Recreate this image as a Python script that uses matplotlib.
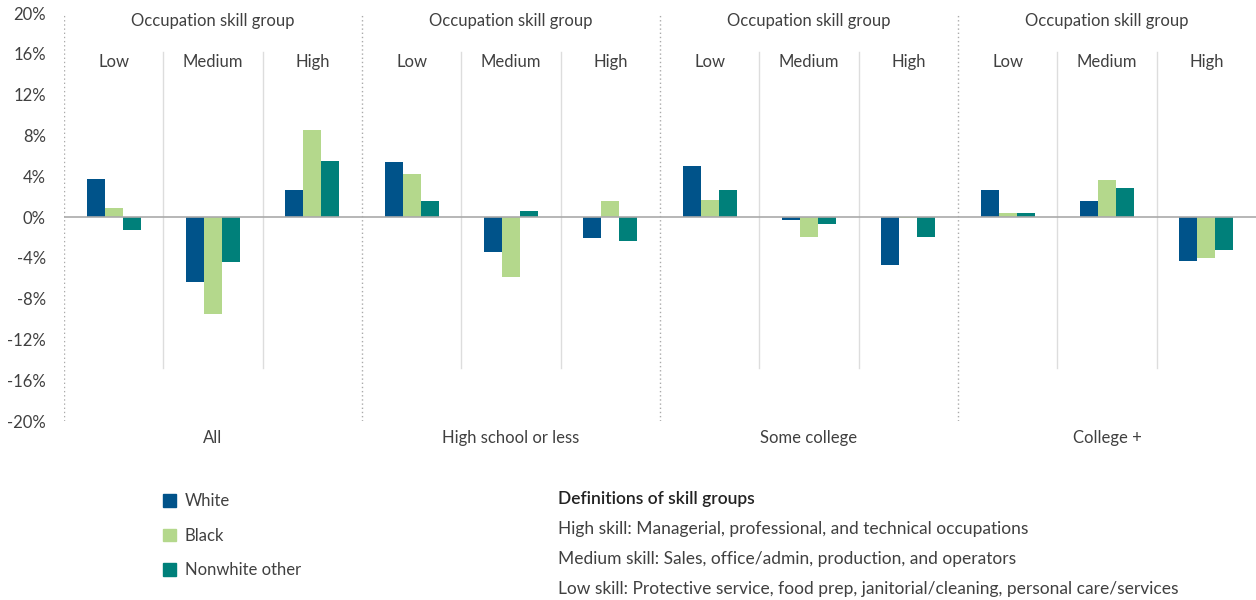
import numpy as np
import matplotlib
matplotlib.use('Agg')
import matplotlib.pyplot as plt
from matplotlib.patches import Patch

plt.rcParams['font.family'] = ['Lato', 'DejaVu Sans']

# data, percent change
groups = ['All', 'High school or less', 'Some college', 'College +']
skills = ['Low', 'Medium', 'High']
series = ['White', 'Black', 'Nonwhite other']
white = [3.7, -6.4, 2.6, 5.4, -3.4, -2.1, 5.0, -0.3, -4.7, 2.6, 1.6, -4.3]
black = [0.9, -9.5, 8.5, 4.2, -5.9, 1.6, 1.7, -2.0, -0.1, 0.4, 3.6, -4.0]
nonwhite = [-1.3, -4.4, 5.5, 1.6, 0.6, -2.4, 2.6, -0.7, -2.0, 0.4, 2.8, -3.2]
colors = ['#00538a', '#b4d88c', '#00807a']

txt = '#404040'
fs = 12
fig = plt.figure(figsize=(12.56, 6), dpi=100)
ax = fig.add_axes([64/1256, 1 - 421/600, 1 - 64/1256, 408/600])

n = len(white)
x = np.arange(n) + 0.5
w = 0.181
for k, (vals, c) in enumerate(zip([white, black, nonwhite], colors)):
    ax.bar(x + (k - 1) * w, vals, width=w, color=c, zorder=3, label=series[k])

ax.set_xlim(0, n)
ax.set_ylim(-20, 20)
ax.set_yticks(np.arange(-20, 21, 4))
ax.set_yticklabels([f'{v}%' for v in range(-20, 21, 4)], fontsize=fs, color=txt)
ax.tick_params(axis='y', length=0, pad=13)
ax.set_xticks([])
for s in ax.spines.values():
    s.set_visible(False)

ax.axhline(0, color='#aaaaaa', lw=1.2, zorder=4)

# dividers
for g in range(len(groups)):
    ax.axvline(g * 3, color='#aaaaaa', lw=1, ls=(0, (1, 2)), ymin=0, ymax=1.0, zorder=1)
    for s in (1, 2):
        ax.axvline(g * 3 + s, color='#dddddd', lw=1, ymin=0.13, ymax=0.904, zorder=1)
    ax.text(g * 3 + 1.5, 19.2, 'Occupation skill group', ha='center', va='center',
            fontsize=fs, color=txt)
    for s, lab in enumerate(skills):
        ax.text(g * 3 + s + 0.5, 15.2, lab, ha='center', va='center', fontsize=fs, color=txt)
    ax.text(g * 3 + 1.5, -21.7, groups[g], ha='center', va='center', fontsize=fs,
            color=txt, clip_on=False)

handles = [Patch(color=c) for c in colors]
fig.legend(handles, series, loc='upper left', bbox_to_anchor=(148/1256, 1 - 478/600),
           frameon=False, fontsize=fs, handlelength=0.8, handleheight=0.8,
           handletextpad=0.5, labelspacing=1.12, labelcolor=txt)

fig.text(558/1256, 1 - 499/600, 'Definitions of skill groups', fontsize=12.5,
         fontweight='semibold', color='#222222', va='center')
defs = ['High skill: Managerial, professional, and technical occupations',
        'Medium skill: Sales, office/admin, production, and operators',
        'Low skill: Protective service, food prep, janitorial/cleaning, personal care/services']
for i, d in enumerate(defs):
    fig.text(558/1256, 1 - (529 + 30 * i)/600, d, fontsize=12.5, color=txt, va='center')

fig.savefig('out.png', dpi=100)
